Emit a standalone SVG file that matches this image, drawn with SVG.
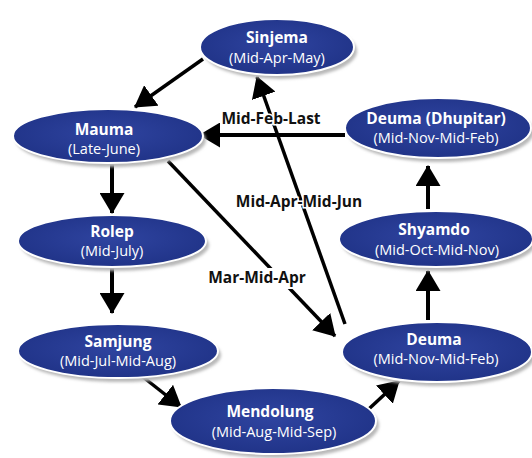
<svg xmlns="http://www.w3.org/2000/svg" width="532" height="458" viewBox="0 0 532 458">
<defs>
<radialGradient id="g" cx="50%" cy="45%" r="60%">
<stop offset="0" stop-color="#2f44a0"/>
<stop offset="1" stop-color="#1f3286"/>
</radialGradient>
<filter id="sh" x="-10%" y="-20%" width="120%" height="140%">
<feGaussianBlur stdDeviation="1.5"/>
</filter>
<marker id="ah" markerUnits="userSpaceOnUse" markerWidth="21" markerHeight="25" refX="20" refY="12.5" orient="auto">
<path d="M0,0 L21,12.5 L0,25 z" fill="#000"/>
</marker>
</defs>
<style>
.sh{fill:#b8b8b8;filter:url(#sh)}
.el{fill:url(#g);stroke:#fff;stroke-width:2}
.t1{font-family:"Open Sans",sans-serif;font-weight:bold;font-size:15.5px;fill:#fff;text-anchor:middle}
.t2{font-family:"Open Sans",sans-serif;font-size:14.5px;fill:#fff;text-anchor:middle}
.lb{font-family:"Open Sans",sans-serif;font-weight:bold;font-size:15.5px;fill:#111;text-anchor:middle}
.halo{stroke:#fff;stroke-width:3;paint-order:stroke}
.c{stroke:#000;stroke-width:4;fill:none;marker-end:url(#ah)}
.d{stroke:#000;stroke-width:3.5;fill:none;marker-end:url(#ah)}
</style>
<rect width="532" height="458" fill="#fff"/>
<g id="connectors">
<line class="d" x1="203" y1="59" x2="135" y2="107"/>
<line class="c" x1="345" y1="135" x2="200" y2="135"/>
<line class="c" x1="112" y1="163" x2="112" y2="213"/>
<line class="c" x1="112" y1="267" x2="112" y2="313"/>
<line class="d" x1="143" y1="377" x2="181" y2="407"/>
<line class="d" x1="358" y1="419" x2="399" y2="381"/>
<line class="c" x1="428" y1="320" x2="428" y2="271"/>
<line class="c" x1="428" y1="209" x2="428" y2="166"/>
<line class="d" x1="168" y1="161" x2="335" y2="336"/>
<line class="d" x1="345" y1="324" x2="257" y2="77"/>
<text class="lb halo" x="271" y="124">Mid-Feb-Last</text>
<text class="lb halo" x="299" y="207">Mid-Apr-Mid-Jun</text>
<rect x="206" y="268" width="104" height="21" fill="#fff"/>
<text class="lb" x="257" y="283">Mar-Mid-Apr</text>
</g>
<g id="sinjema">
<ellipse class="sh" cx="280" cy="51" rx="77" ry="28"/>
<ellipse class="el" cx="277" cy="47" rx="77" ry="28"/>
<text class="t1" x="277" y="43">Sinjema</text>
<text class="t2" x="277" y="63">(Mid-Apr-May)</text>
</g>
<g id="mauma">
<ellipse class="sh" cx="111" cy="140" rx="95" ry="27"/>
<ellipse class="el" cx="108" cy="136" rx="95" ry="27"/>
<text class="t1" x="104" y="135">Mauma</text>
<text class="t2" x="104" y="154">(Late-June)</text>
</g>
<g id="deuma-dhupitar">
<ellipse class="sh" cx="441" cy="132" rx="93" ry="30"/>
<ellipse class="el" cx="438" cy="128" rx="93" ry="30"/>
<text class="t1" x="436" y="124">Deuma (Dhupitar)</text>
<text class="t2" x="436" y="143">(Mid-Nov-Mid-Feb)</text>
</g>
<g id="rolep">
<ellipse class="sh" cx="115" cy="245" rx="94" ry="26"/>
<ellipse class="el" cx="112" cy="241" rx="94" ry="26"/>
<text class="t1" x="112" y="237">Rolep</text>
<text class="t2" x="112" y="256">(Mid-July)</text>
</g>
<g id="shyamdo">
<ellipse class="sh" cx="439" cy="243" rx="97" ry="28"/>
<ellipse class="el" cx="436" cy="239" rx="97" ry="28"/>
<text class="t1" x="434" y="235">Shyamdo</text>
<text class="t2" x="437" y="255">(Mid-Oct-Mid-Nov)</text>
</g>
<g id="samjung">
<ellipse class="sh" cx="121" cy="355" rx="100" ry="27"/>
<ellipse class="el" cx="118" cy="351" rx="100" ry="27"/>
<text class="t1" x="118" y="347">Samjung</text>
<text class="t2" x="118" y="366">(Mid-Jul-Mid-Aug)</text>
</g>
<g id="deuma">
<ellipse class="sh" cx="440" cy="356" rx="95" ry="30"/>
<ellipse class="el" cx="437" cy="352" rx="95" ry="30"/>
<text class="t1" x="434" y="345">Deuma</text>
<text class="t2" x="436" y="364">(Mid-Nov-Mid-Feb)</text>
</g>
<g id="mendolung">
<ellipse class="sh" cx="276" cy="425" rx="103" ry="33"/>
<ellipse class="el" cx="273" cy="421" rx="103" ry="33"/>
<text class="t1" x="270" y="417">Mendolung</text>
<text class="t2" x="274" y="437">(Mid-Aug-Mid-Sep)</text>
</g>
</svg>
